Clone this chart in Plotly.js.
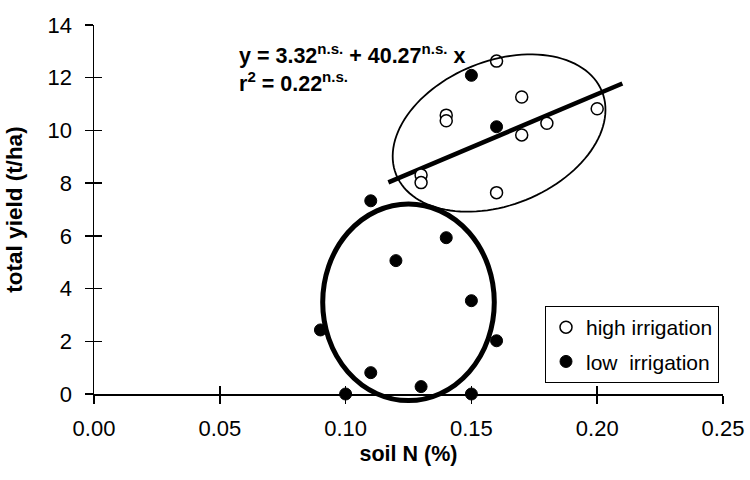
<!DOCTYPE html>
<html>
<head>
<meta charset="utf-8">
<script src="https://cdn.plot.ly/plotly-3.0.1.min.js"></script>
<style>html,body{margin:0;padding:0;background:#fff;}#chart{width:750px;height:480px;}</style>
</head>
<body>
<div id="chart"></div>
<script>
// ---- data ----
const highN     = [0.16, 0.14, 0.14, 0.17, 0.17, 0.18, 0.20, 0.13, 0.13, 0.16];
const highYield = [12.63, 10.58, 10.37, 11.27, 9.83, 10.27, 10.82, 8.31, 8.02, 7.64];

const lowN      = [0.15, 0.16, 0.11, 0.14, 0.12, 0.15, 0.09, 0.16, 0.11, 0.13, 0.10, 0.15];
const lowYield  = [12.09, 10.14, 7.33, 5.93, 5.06, 3.54, 2.43, 2.02, 0.81, 0.28, 0.0, 0.0];

const fitN      = [0.117, 0.21];
const fitYield  = [8.03, 11.78];

const xTicks    = [0, 0.05, 0.10, 0.15, 0.20, 0.25];
const xTickText = ['0.00', '0.05', '0.10', '0.15', '0.20', '0.25'];
const yTicks    = [0, 2, 4, 6, 8, 10, 12, 14];

const xRange = [0, 0.25];
const yRange = [0, 14];

// ---- layout geometry ----
const W = 750, H = 480;
const M = {l: 94, r: 27, t: 25, b: 86};
const plotW = W - M.l - M.r, plotH = H - M.t - M.b;
const px2paperX = p => p / plotW;
const px2paperY = p => p / plotH;
const toPaperX = x => (x - xRange[0]) / (xRange[1] - xRange[0]);
const toPaperY = y => (y - yRange[0]) / (yRange[1] - yRange[0]);

// low-irrigation ellipse (axis aligned)
const lowEll = {cx: 0.125, cy: 3.48, rx: 0.0341, ry: 3.73};
// high-irrigation ellipse (tilted, radii in pixels)
const highEll = {cx: 0.161, cy: 9.90, a: 111, b: 72, deg: 22};

function tiltedEllipsePath(e) {
  const th = e.deg * Math.PI / 180;
  const cxp = toPaperX(e.cx), cyp = toPaperY(e.cy);
  let d = '';
  const n = 120;
  for (let i = 0; i <= n; i++) {
    const t = 2 * Math.PI * i / n;
    const dx = e.a * Math.cos(t) * Math.cos(th) - e.b * Math.sin(t) * Math.sin(th);
    const dy = e.a * Math.cos(t) * Math.sin(th) + e.b * Math.sin(t) * Math.cos(th);
    const X = cxp + px2paperX(dx), Y = cyp + px2paperY(dy);
    d += (i === 0 ? 'M' : 'L') + X.toFixed(5) + ',' + Y.toFixed(5);
  }
  return d + 'Z';
}

const font = 'Liberation Sans, Arial, sans-serif';

const traces = [
  {
    x: fitN, y: fitYield, mode: 'lines', type: 'scatter',
    line: {color: '#000', width: 4.5}, showlegend: false, hoverinfo: 'skip', cliponaxis: false
  },
  {
    x: highN, y: highYield, mode: 'markers', type: 'scatter', name: 'high irrigation',
    legendgroup: 'a',
    marker: {symbol: 'circle', size: 12, color: '#fff', line: {color: '#000', width: 1.5}},
    cliponaxis: false
  },
  {
    x: lowN, y: lowYield, mode: 'markers', type: 'scatter', name: 'low\u00a0 irrigation',
    legendgroup: 'b',
    marker: {symbol: 'circle', size: 12, color: '#000', line: {color: '#000', width: 1}},
    cliponaxis: false
  },
  { x: [], y: [], xaxis: 'x2', yaxis: 'y2', showlegend: false, type: 'scatter', mode: 'markers' }
];

const axisCommon = {
  showgrid: false, zeroline: false, showline: true, linecolor: '#000', linewidth: 1.5,
  ticks: 'outside', ticklen: 8, tickwidth: 1.5, tickcolor: '#000',
  tickfont: {family: font, size: 22, color: '#000'}
};

const layout = {
  width: W, height: H,
  margin: M,
  paper_bgcolor: '#fff', plot_bgcolor: '#fff',
  font: {family: font, color: '#000'},
  showlegend: true,
  legend: {
    x: px2paperX(719 - M.l), y: px2paperY(394 - 383), xanchor: 'right', yanchor: 'bottom',
    bordercolor: '#000', borderwidth: 1, bgcolor: '#fff',
    font: {family: font, size: 21, color: '#000'},
    traceorder: 'grouped', tracegroupgap: 4, itemwidth: 30
  },
  xaxis: Object.assign({}, axisCommon, {
    range: xRange, tickvals: xTicks, ticktext: xTickText, ticklabelstandoff: 6,
    title: {text: '<b>soil N (%)</b>', font: {family: font, size: 21.5, color: '#000'}, standoff: 6}
  }),
  yaxis: Object.assign({}, axisCommon, {
    range: yRange, tickvals: yTicks, ticklabelstandoff: 8,
    title: {text: '<b>total yield (t/ha)</b>', font: {family: font, size: 22.5, color: '#000'}, standoff: 18}
  }),
  xaxis2: {
    overlaying: 'x', anchor: 'y2', side: 'bottom', range: xRange, tickvals: xTicks,
    showticklabels: false, showgrid: false, zeroline: false, showline: false,
    ticks: 'inside', ticklen: 8, tickwidth: 1.5, tickcolor: '#000'
  },
  yaxis2: {
    overlaying: 'y', anchor: 'x2', side: 'left', range: yRange, tickvals: yTicks,
    showticklabels: false, showgrid: false, zeroline: false, showline: false,
    ticks: 'inside', ticklen: 8, tickwidth: 1.5, tickcolor: '#000'
  },
  shapes: [
    {
      type: 'circle', xref: 'paper', yref: 'paper', layer: 'above',
      x0: toPaperX(lowEll.cx - lowEll.rx), x1: toPaperX(lowEll.cx + lowEll.rx),
      y0: toPaperY(lowEll.cy - lowEll.ry), y1: toPaperY(lowEll.cy + lowEll.ry),
      line: {color: '#000', width: 5}
    },
    {
      type: 'path', xref: 'paper', yref: 'paper', layer: 'above',
      path: tiltedEllipsePath(highEll),
      line: {color: '#000', width: 1.8}
    }
  ],
  annotations: [
    {
      xref: 'paper', yref: 'paper', x: px2paperX(237 - M.l), y: px2paperY(394 - 38),
      xanchor: 'left', yanchor: 'top', align: 'left', showarrow: false,
      text: '<b>y = 3.32<sup>n.s.</sup> + 40.27<sup>n.s.</sup> x</b><br><b>r<sup>2</sup> = 0.22<sup>n.s.</sup></b>',
      font: {family: font, size: 21.5, color: '#000'}
    }
  ]
};

Plotly.newPlot('chart', traces, layout, {displayModeBar: false, staticPlot: true});
</script>
</body>
</html>
